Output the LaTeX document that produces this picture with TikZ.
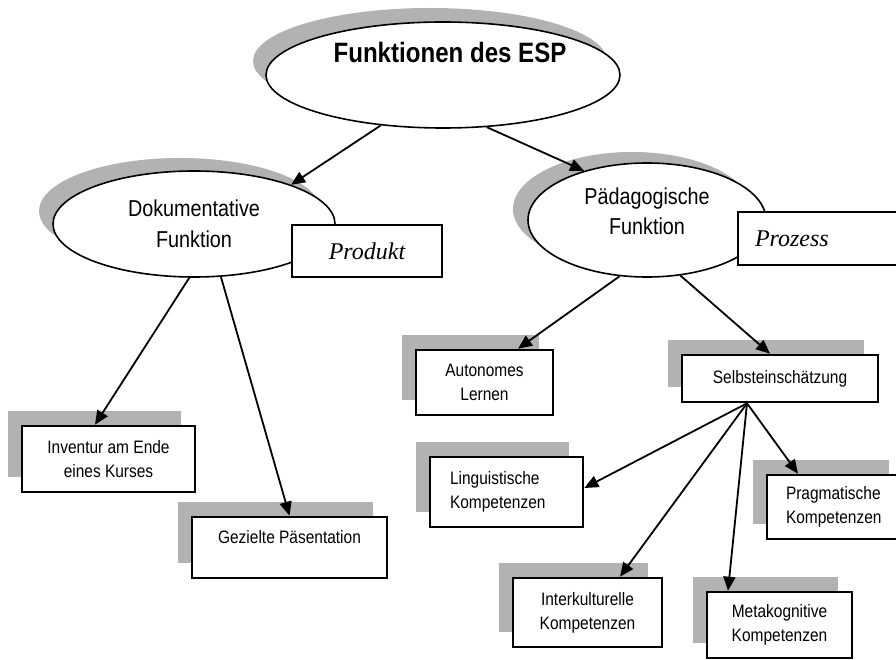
\documentclass[tikz,border=0pt]{standalone}
\usepackage{fontspec}
\setmainfont{Liberation Sans}[FakeStretch=0.86]
\newfontfamily\timesfont{Liberation Serif}
\usetikzlibrary{arrows.meta,shapes.geometric,shadows}
\begin{document}
\begin{tikzpicture}[x=1pt,y=-1pt,
  shcol/.style={fill=black!30, opacity=1},
  ell/.style={ellipse, draw, line width=1.6pt, fill=white, inner sep=0pt, align=center,
    font=\fontsize{23}{30.5}\selectfont},
  shbox/.style={rectangle, draw, line width=2.6pt, fill=white, inner sep=0pt, align=center,
    font=\fontsize{18}{24}\selectfont,
    drop shadow={shadow xshift=-14pt, shadow yshift=15pt, shcol}},
  tagbox/.style={rectangle, draw, line width=2.6pt, fill=white, inner sep=0pt,
    font=\timesfont\itshape\fontsize{24}{28}\selectfont},
  conn/.style={line width=1.8pt, -{Triangle[length=14pt,width=12pt]}}
]
\useasboundingbox (0,0) rectangle (896,660);

% ellipses
\node[ell, minimum width=354pt, minimum height=106pt,
  font=\bfseries\fontsize{28}{30}\selectfont, text height=20pt, text depth=44pt,
  drop shadow={shadow xshift=-13pt, shadow yshift=14pt, shcol}]
  (esp) at (443,75) {\hspace*{14pt}Funktionen des ESP};
\node[ell, minimum width=282pt, minimum height=106pt,
  drop shadow={shadow xshift=-14pt, shadow yshift=13pt, shcol}]
  (dok) at (194,224) {Dokumentative\\Funktion};
\node[ell, minimum width=238pt, minimum height=114pt, text depth=18pt,
  drop shadow={shadow xshift=-15pt, shadow yshift=11pt, shcol}]
  (pad) at (647,220) {Pädagogische\\Funktion};

% tag boxes
\node[tagbox, minimum width=150pt, minimum height=52pt] (prod) at (367,251) {Produkt};
\node[tagbox, minimum width=162pt, minimum height=53pt, inner xsep=17pt,
  text width=128pt, align=left] (proz) at (819,238.5) {Prozess};

% boxes
\node[shbox, minimum width=173pt, minimum height=66pt] (inv) at (108.5,459) {Inventur am Ende\\eines Kurses};
\node[shbox, minimum width=195pt, minimum height=61pt, text depth=21pt] (gez) at (289.5,547.5) {Gezielte Päsentation};
\node[shbox, minimum width=137pt, minimum height=65pt] (aut) at (484.5,382.5) {Autonomes\\Lernen};
\node[shbox, minimum width=196pt, minimum height=47pt] (sel) at (780,378.5) {Selbsteinschätzung};
\node[shbox, minimum width=153pt, minimum height=70pt, inner xsep=20pt, text width=113pt, align=left]
  (lin) at (506.5,492) {Linguistische\\Kompetenzen};
\node[shbox, minimum width=136pt, minimum height=64pt, inner xsep=19pt, text width=98pt, align=left]
  (pra) at (835,507) {Pragmatische\\Kompetenzen};
\node[shbox, minimum width=149pt, minimum height=69pt] (int) at (587.5,612.5) {Interkulturelle\\Kompetenzen};
\node[shbox, minimum width=145pt, minimum height=66pt] (met) at (779.5,625) {Metakognitive\\Kompetenzen};

% connectors
\draw[conn] (esp.219.5) -- (dok.22.6);
\draw[conn] (esp.310.3) -- (pad.142.2);
\draw[conn] (dok.265.7) -- ([xshift=-13.5pt]inv.north);
\draw[conn] (dok.297.8) -- (gez.north);
\draw[conn] (pad.244.6) -- ([xshift=33.5pt]aut.north);
\draw[conn] (pad.301.6) -- ([xshift=-10pt]sel.north);
\coordinate (selout) at ([xshift=-33pt]sel.south);
\draw[conn] (selout) -- ([yshift=4pt]lin.east);
\draw[conn] (selout) -- ([xshift=32.5pt]int.north);
\draw[conn] (selout) -- ([xshift=-51.5pt]met.north);
\draw[conn] (selout) -- ([xshift=-37pt]pra.north);
\end{tikzpicture}
\end{document}
